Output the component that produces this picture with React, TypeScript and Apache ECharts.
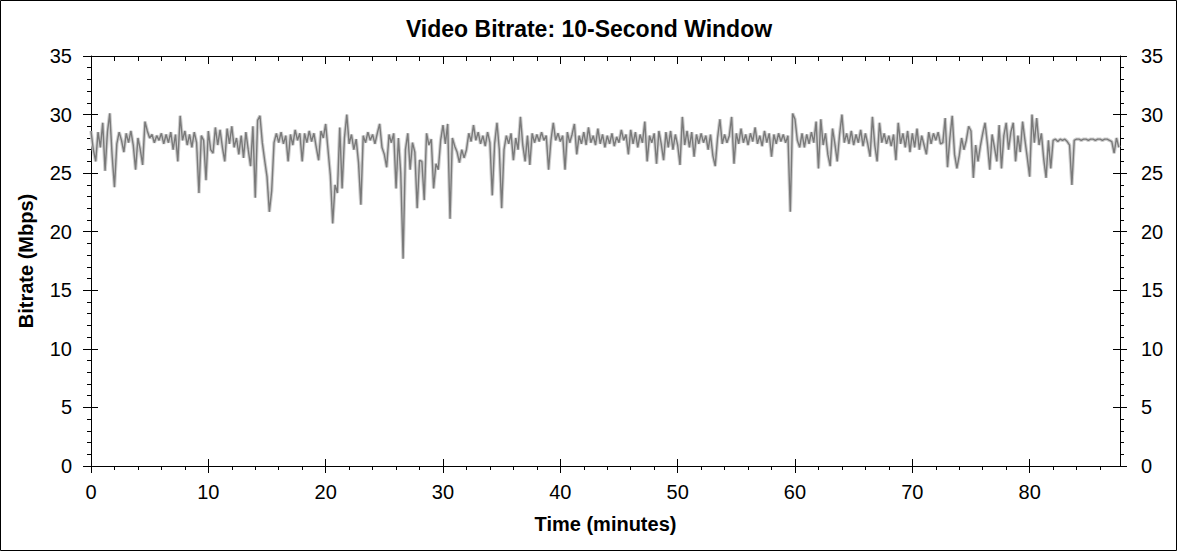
import React, { useEffect, useRef } from "react";
import * as echarts from "echarts";

const TITLE = "Video Bitrate: 10-Second Window";
const X_NAME = "Time (minutes)";
const Y_NAME = "Bitrate (Mbps)";

const STEP_MIN = 0.2;
const X_MAX = 87.7;
const X_MAJOR = [0, 10, 20, 30, 40, 50, 60, 70, 80];
const X_MINOR = [2, 4, 6, 8, 12, 14, 16, 18, 22, 24, 26, 28, 32, 34, 36, 38, 42, 44, 46, 48, 52, 54, 56, 58, 62, 64, 66, 68, 72, 74, 76, 78, 82, 84, 86];
const Y_MIN = 0;
const Y_MAX = 35;
const Y_INTERVAL = 5;

// Bitrate (Mbps), one value every 0.2 minutes from 0
const BITRATE = [
  28.6, 27.0, 26.0, 28.5, 27.2, 29.3, 25.2, 28.5, 30.1, 26.5,
  23.8, 27.5, 28.5, 27.8, 26.8, 28.4, 27.6, 28.6, 27.4, 25.3,
  28.0, 27.0, 25.7, 29.4, 28.6, 28.0, 28.3, 27.6, 28.2, 27.8,
  28.4, 27.5, 28.3, 27.6, 28.5, 27.0, 28.3, 26.0, 29.9, 27.8,
  28.6, 27.4, 28.3, 27.2, 28.5, 27.6, 23.3, 28.2, 27.8, 24.4,
  28.6, 27.0, 26.7, 28.9, 27.4, 28.7, 27.2, 26.0, 28.8, 27.5,
  29.0, 27.2, 28.0, 26.6, 28.2, 26.3, 28.5, 27.0, 25.6, 29.0,
  22.9, 29.5, 29.9, 27.6, 26.1, 24.7, 21.7, 23.5, 27.6, 28.4,
  27.6, 28.5, 27.5, 28.2, 26.0, 28.3, 27.4, 28.7, 27.8, 28.4,
  26.0, 28.4, 27.6, 28.6, 27.7, 28.4, 27.2, 26.1, 28.6, 28.0,
  29.2, 27.0, 24.8, 20.7, 24.0, 23.3, 28.9, 23.7, 28.0, 30.0,
  27.5, 28.3, 27.0, 27.9, 25.9, 22.3, 28.2, 27.6, 28.5, 27.8,
  28.3, 27.5, 28.4, 29.2, 27.2, 26.6, 25.5, 28.3, 27.6, 28.4,
  23.7, 28.0, 25.0, 17.7, 27.0, 28.4, 25.3, 27.6, 26.8, 22.0,
  26.1, 26.0, 22.7, 28.4, 27.4, 27.9, 23.7, 25.8, 25.3, 27.8,
  29.1, 27.5, 29.2, 21.1, 28.0, 27.3, 26.8, 25.9, 27.0, 26.3,
  27.0, 28.4, 27.7, 29.1, 27.8, 28.5, 27.5, 28.2, 27.3, 28.5,
  27.6, 23.1, 27.5, 29.3, 27.0, 22.0, 27.0, 28.2, 27.5, 28.4,
  26.1, 28.0, 27.0, 29.8, 27.4, 26.0, 28.2, 25.7, 28.4, 27.6,
  28.3, 27.7, 28.5, 27.8, 28.2, 25.3, 27.8, 29.3, 27.8, 28.4,
  27.7, 28.2, 25.3, 28.5, 27.6, 28.3, 29.2, 26.6, 28.2, 27.5,
  28.5, 27.4, 28.9, 27.6, 28.2, 27.4, 28.8, 27.5, 28.3, 27.2,
  28.2, 27.5, 28.4, 27.3, 28.1, 27.6, 28.7, 27.8, 28.3, 26.6,
  28.7, 27.5, 28.5, 27.2, 28.3, 27.6, 29.4, 26.0, 28.2, 27.6,
  28.4, 25.8, 28.6, 27.5, 26.1, 28.5, 27.2, 28.6, 27.0, 28.3,
  27.4, 25.7, 29.8, 27.4, 28.6, 27.2, 28.5, 26.4, 28.3, 27.5,
  28.4, 27.6, 28.2, 27.0, 28.3, 26.5, 25.6, 28.0, 29.6, 27.5,
  28.3, 27.6, 28.2, 29.8, 25.8, 28.4, 27.5, 28.8, 27.6, 28.3,
  27.4, 28.4, 27.7, 28.9, 27.5, 28.2, 27.3, 28.6, 27.6, 28.4,
  26.4, 28.3, 27.5, 28.4, 27.7, 28.3, 27.6, 28.2, 21.7, 30.1,
  29.6, 27.8, 27.2, 28.4, 27.2, 28.3, 27.5, 28.5, 27.6, 29.4,
  25.4, 29.6, 27.4, 28.4, 26.6, 25.6, 28.8, 27.5, 26.0, 28.3,
  30.0, 27.6, 28.4, 27.5, 28.6, 27.4, 28.3, 27.6, 28.7, 27.3,
  28.4, 27.5, 26.4, 29.8, 27.4, 26.0, 29.3, 27.6, 28.4, 27.5,
  28.2, 27.3, 28.3, 26.1, 29.3, 27.5, 28.4, 27.2, 28.6, 26.8,
  28.4, 27.2, 28.8, 27.0, 28.2, 27.4, 26.6, 28.5, 27.5, 28.4,
  27.8, 28.5, 27.5, 27.6, 29.7, 25.5, 28.0, 29.9, 26.6, 25.4,
  26.5, 28.0, 27.0, 27.8, 29.0, 28.6, 24.6, 27.4, 26.0, 27.3,
  28.4, 29.3, 27.5, 25.3, 28.3, 27.2, 26.0, 29.1, 25.4, 28.2,
  29.3, 27.0, 28.5, 29.3, 26.0, 28.2, 26.8, 29.4, 27.8, 26.3,
  24.7, 30.0, 27.6, 29.7, 27.4, 28.4, 26.2, 24.6, 27.8, 25.4,
  27.8, 27.9, 27.7, 27.9, 27.8, 27.9, 27.7, 27.4, 24.0, 27.8,
  27.9, 27.9, 27.8, 27.9, 27.9, 27.8, 27.9, 27.9, 27.8, 27.9,
  27.9, 27.8, 27.9, 27.9, 27.8, 27.7, 26.7, 28.0, 27.2,
];

const FONT = '"Liberation Sans", Arial, Helvetica, sans-serif';
const BLACK = { color: "#000", width: 1 };

export default function App() {
  const ref = useRef<HTMLDivElement>(null);

  useEffect(() => {
    if (!ref.current) return;
    const chart = echarts.init(ref.current, undefined, { renderer: "svg" });
    const data = BITRATE.map((v, i) => [Math.round(i * STEP_MIN * 10) / 10, v]);

    const xBase = { type: "value", min: 0, max: X_MAX, splitLine: { show: false } };
    const yBase = { type: "value", min: Y_MIN, max: Y_MAX, interval: Y_INTERVAL, splitLine: { show: false } };
    const noLine = { show: false };
    const noLabel = { show: false };

    const option: any = {
      animation: false,
      backgroundColor: "#fff",
      title: {
        text: TITLE,
        left: "center",
        top: 12,
        textStyle: { fontFamily: FONT, fontSize: 23, fontWeight: "bold", color: "#000" },
      },
      grid: { left: 91, right: 58, top: 56, bottom: 86, containLabel: false, outerBoundsMode: "none" },
      xAxis: [
        {
          ...xBase,
          position: "bottom",
          axisLine: { show: true, onZero: false, lineStyle: BLACK },
          axisTick: { show: true, inside: true, length: 7, customValues: X_MAJOR, lineStyle: BLACK },
          axisLabel: { customValues: X_MAJOR, margin: 16, fontSize: 20, fontFamily: FONT, color: "#000" },
          name: X_NAME,
          nameLocation: "middle",
          nameGap: 48,
          nameTextStyle: { fontSize: 20, fontWeight: "bold", fontFamily: FONT, color: "#000" },
        },
        {
          ...xBase,
          position: "bottom",
          axisLine: { ...noLine, onZero: false },
          axisTick: { show: true, inside: false, length: 7, customValues: X_MAJOR, lineStyle: BLACK },
          axisLabel: noLabel,
        },
        {
          ...xBase,
          position: "bottom",
          axisLine: { ...noLine, onZero: false },
          axisTick: { show: true, inside: false, length: 4, customValues: X_MINOR, lineStyle: BLACK },
          axisLabel: noLabel,
        },
        {
          ...xBase,
          position: "top",
          axisLine: { show: true, onZero: false, lineStyle: BLACK },
          axisTick: { show: true, inside: true, length: 8, customValues: X_MAJOR, lineStyle: BLACK },
          axisLabel: noLabel,
        },
        {
          ...xBase,
          position: "top",
          axisLine: { ...noLine, onZero: false },
          axisTick: { show: true, inside: true, length: 5, customValues: X_MINOR, lineStyle: BLACK },
          axisLabel: noLabel,
        },
      ],
      yAxis: [
        {
          ...yBase,
          position: "left",
          axisLine: { show: true, onZero: false, lineStyle: BLACK },
          axisTick: { show: true, inside: true, length: 7, lineStyle: BLACK },
          axisLabel: { margin: 19, fontSize: 20, fontFamily: FONT, color: "#000" },
          name: Y_NAME,
          nameLocation: "middle",
          nameGap: 55,
          nameTextStyle: { fontSize: 20, fontWeight: "bold", fontFamily: FONT, color: "#000" },
        },
        {
          ...yBase,
          position: "left",
          axisLine: { ...noLine, onZero: false },
          axisTick: { show: true, inside: false, length: 8, lineStyle: BLACK },
          minorTick: { show: true, splitNumber: 5, length: 4, lineStyle: BLACK },
          axisLabel: noLabel,
        },
        {
          ...yBase,
          position: "right",
          axisLine: { show: true, onZero: false, lineStyle: BLACK },
          axisTick: { show: true, inside: true, length: 7, lineStyle: BLACK },
          axisLabel: { margin: 21, fontSize: 20, fontFamily: FONT, color: "#000" },
        },
        {
          ...yBase,
          position: "right",
          axisLine: { ...noLine, onZero: false },
          axisTick: { show: true, inside: false, length: 7, lineStyle: BLACK },
          minorTick: { show: true, splitNumber: 5, length: 4, lineStyle: BLACK },
          axisLabel: noLabel,
        },
      ],
      series: [
        {
          type: "line",
          xAxisIndex: 0,
          yAxisIndex: 0,
          data,
          symbol: "none",
          showSymbol: false,
          silent: true,
          z: 2,
          lineStyle: { color: "#cfcfcf", width: 3.5 },
        },
        {
          type: "line",
          xAxisIndex: 0,
          yAxisIndex: 0,
          data,
          symbol: "none",
          showSymbol: false,
          silent: true,
          z: 3,
          lineStyle: { color: "#7a7a7a", width: 1.4 },
        },
      ],
      graphic: [
        {
          type: "rect",
          silent: true,
          shape: { x: 0.5, y: 0.5, width: 1176, height: 550 },
          style: { fill: "none", stroke: "#000", lineWidth: 1 },
        },
      ],
    };

    chart.setOption(option);
    return () => chart.dispose();
  }, []);

  return (
    <div
      ref={ref}
      style={{ position: "fixed", left: 0, top: 0, width: 1178, height: 552, background: "#fff" }}
    />
  );
}
